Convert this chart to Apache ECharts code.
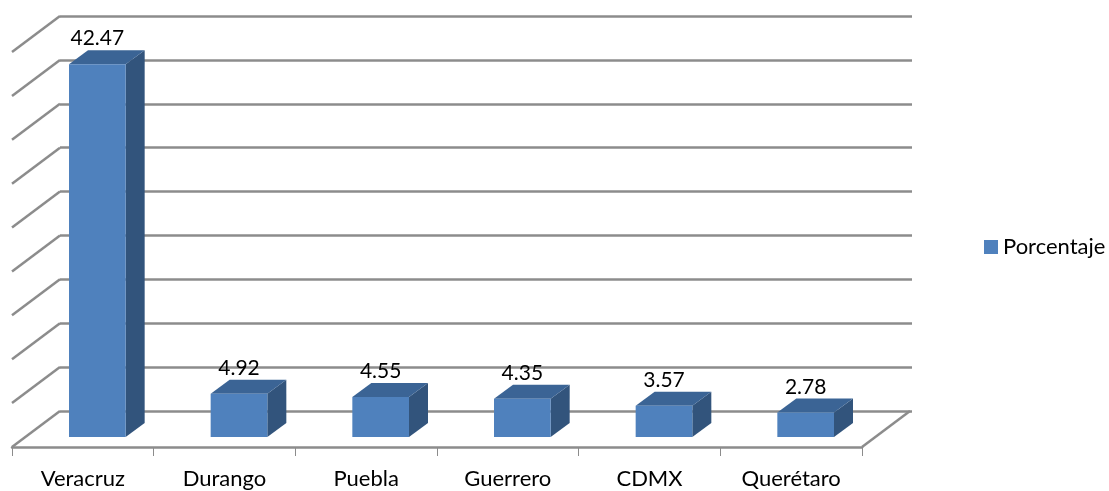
<!DOCTYPE html>
<html>
<head>
<meta charset="utf-8">
<title>Porcentaje</title>
<script src="https://cdn.jsdelivr.net/npm/echarts@6/dist/echarts.min.js"></script>
<style>
    html, body { margin: 0; padding: 0; background: #fff; }
    #chart { width: 1109px; height: 491px; }
</style>
</head>
<body>
<div id="chart"></div>
<script>
    const categories = ['Veracruz', 'Durango', 'Puebla', 'Guerrero', 'CDMX', 'Querétaro']
    const values = [42.47, 4.92, 4.55, 4.35, 3.57, 2.78]
    const wallTicks = [0, 5, 10, 15, 20, 25, 30, 35, 40, 45]
    const seriesName = 'Porcentaje'

    const font = 'Lato, "Open Sans", sans-serif'
    const gridColor = '#8c8c8c'
    const gridWidth = 2.5
    // depth of the floor, and of one box, in pixels
    const floorDx = 48, floorDy = 36
    const boxDx = 19, boxDy = 14
    const boxShiftX = 14.5, boxShiftY = 10

    const chart = echarts.init(document.getElementById('chart'))

    const renderBar = (params, api) => {
        const base = api.coord([api.value(0), 0])
        const top = api.coord([api.value(0), api.value(1)])
        const w = api.size([1, 0])[0] * 0.4
        const l = base[0] - w / 2 + boxShiftX
        const r = l + w
        const b = base[1] - boxShiftY
        const t = top[1] - boxShiftY
        return {
            type: 'group',
            children: [
                { type: 'polygon', shape: { points: [[r, t], [r + boxDx, t - boxDy], [r + boxDx, b - boxDy], [r, b]] }, style: { fill: '#32547c' } },
                { type: 'polygon', shape: { points: [[l, t], [l + boxDx, t - boxDy], [r + boxDx, t - boxDy], [r, t]] }, style: { fill: '#3b6495' } },
                { type: 'rect', shape: { x: l, y: t, width: w, height: b - t }, style: { fill: '#4f81bd' } },
                { type: 'text', style: { text: String(api.value(1)), x: (l + r) / 2, y: t - boxDy - 11.5, align: 'center', verticalAlign: 'middle', fill: '#000', font: '21px ' + font } }
            ]
        }
    }

    // left wall diagonals, the last one closes the floor on the right
    const renderWall = (params, api) => {
        const rect = params.coordSys
        const y = api.coord([0, api.value(0)])[1]
        const lines = [[rect.x, y]]
        if (api.value(0) === 0) lines.push([rect.x + rect.width, y])
        return {
            type: 'group',
            children: lines.map(p => ({
                type: 'line',
                shape: { x1: p[0], y1: p[1], x2: p[0] + floorDx, y2: p[1] - floorDy },
                style: { stroke: gridColor, lineWidth: gridWidth }
            }))
        }
    }

    const option = {
        animation: false,
        backgroundColor: '#fff',
        legend: {
            data: [{ name: seriesName, icon: 'rect' }],
            left: 979,
            top: 231,
            itemWidth: 14,
            itemHeight: 14,
            itemGap: 0,
            textStyle: { color: '#000', fontSize: 22, fontFamily: font }
        },
        grid: [
            { left: 60, top: 16, width: 852, height: 395 },
            { left: 12, top: 52, width: 850, height: 395 }
        ],
        xAxis: [
            { gridIndex: 0, type: 'category', data: categories, show: false },
            {
                gridIndex: 1,
                type: 'category',
                data: categories,
                axisLine: { lineStyle: { color: gridColor, width: gridWidth } },
                axisTick: { show: true, length: 9, lineStyle: { color: gridColor, width: 1 } },
                axisLabel: { color: '#000', fontSize: 22, fontFamily: font, margin: 21, interval: 0 }
            }
        ],
        yAxis: [
            {
                gridIndex: 0,
                type: 'value',
                min: 0,
                max: 45,
                interval: 5,
                axisLine: { show: false },
                axisTick: { show: false },
                axisLabel: { show: false },
                splitLine: { lineStyle: { color: gridColor, width: gridWidth } }
            },
            { gridIndex: 1, type: 'value', min: 0, max: 45, interval: 5, show: false, splitLine: { show: false } }
        ],
        series: [
            {
                name: 'walls',
                type: 'custom',
                xAxisIndex: 1,
                yAxisIndex: 1,
                silent: true,
                z: 1,
                renderItem: renderWall,
                encode: { y: 0 },
                data: wallTicks.map(v => [v])
            },
            {
                name: seriesName,
                type: 'custom',
                xAxisIndex: 1,
                yAxisIndex: 1,
                z: 3,
                itemStyle: { color: '#4f81bd' },
                renderItem: renderBar,
                encode: { x: 0, y: 1 },
                data: values.map((v, i) => [i, v])
            }
        ]
    }

    chart.setOption(option)
</script>
</body>
</html>
